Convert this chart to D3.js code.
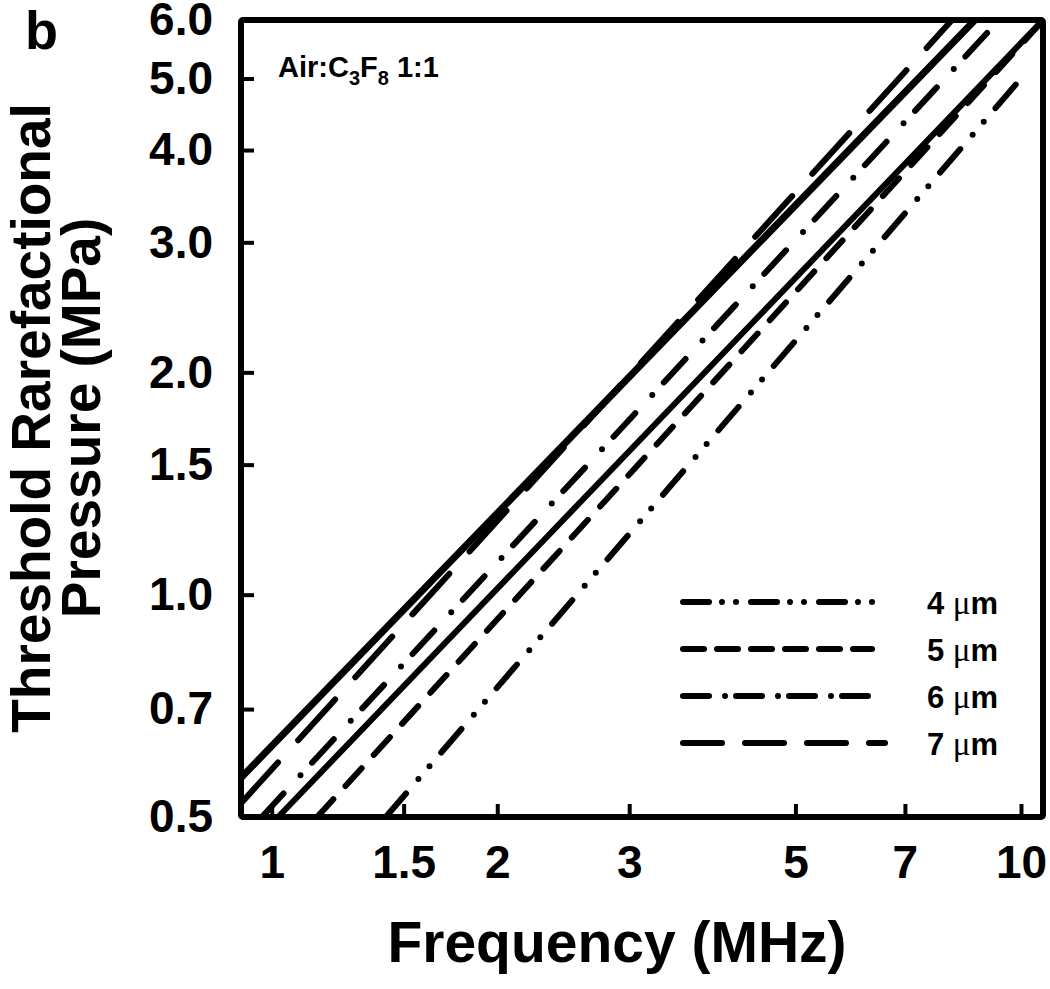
<!DOCTYPE html>
<html>
<head>
<meta charset="utf-8">
<script src="https://cdn.jsdelivr.net/npm/d3@7"></script>
<style>
  body { margin: 0; background: #fff; }
  svg { display: block; }
  text { font-family: "Liberation Sans", Arial, sans-serif; font-weight: bold; fill: #000; }
</style>
</head>
<body>
<svg id="chart" width="1050" height="989"></svg>
<script>
// values
const freqTicks = [1, 1.5, 2, 3, 5, 7, 10];
const pressureTicks = [0.5, 0.7, 1.0, 1.5, 2.0, 3.0, 4.0, 5.0, 6.0];

const lineNames   = ['4 µm', '5 µm', '6 µm', '7 µm', 'solid A', 'solid C'];
const freqStart   = [1.42, 1.15, 0.97, 0.91, 0.91, 1.02];
const pressStart  = [0.5, 0.5, 0.5, 0.522, 0.565, 0.5];
const freqEnd     = [10.0, 10.6, 9.35, 8.09, 8.68, 10.7];
const pressEnd    = [5.0, 5.93, 6.0, 6.0, 6.0, 6.0];

const legendLabels = ['4', '5', '6', '7'];

// styles
const lineDash   = ['31,19,0,17,0,18', '24,18', '32,25,0,17', '55,30', null, null];
const lineWidth  = [6, 6, 6, 6, 7, 6];
const legendDash = ['26,13,0,14,0,15', '21,13', '26,16,0,11', '39,23'];
const legendEnd  = [873, 872, 869, 885];

const plotL = 241, plotR = 1043, plotT = 20, plotB = 817;

const svg = d3.select('#chart');

const x = d3.scaleLog().domain([0.91, 10.7]).range([plotL, plotR]);
const y = d3.scaleLog().domain([0.5, 6.0]).range([plotB, plotT]);

svg.append('defs').append('clipPath').attr('id', 'plot')
  .append('rect')
  .attr('x', plotL).attr('y', plotT)
  .attr('width', plotR - plotL).attr('height', plotB - plotT);

const lines = lineNames.map((name, i) => ({
  name,
  pts: [[freqStart[i], pressStart[i]], [freqEnd[i], pressEnd[i]]],
  dash: lineDash[i],
  width: lineWidth[i]
}));

const line = d3.line().x(d => x(d[0])).y(d => y(d[1]));

svg.append('g').attr('clip-path', 'url(#plot)')
  .selectAll('path')
  .data(lines)
  .join('path')
  .attr('d', d => line(d.pts))
  .attr('fill', 'none')
  .attr('stroke', '#000')
  .attr('stroke-width', d => d.width)
  .attr('stroke-linecap', 'round')
  .attr('stroke-dasharray', d => d.dash);

// axes with inward ticks
const yAxis = d3.axisLeft(y)
  .tickValues(pressureTicks)
  .tickFormat(d3.format('.1f'))
  .tickSize(-13)
  .tickPadding(28);

const xAxis = d3.axisBottom(x)
  .tickValues(freqTicks)
  .tickFormat(d => d)
  .tickSize(-13)
  .tickPadding(28);

const gy = svg.append('g').attr('transform', `translate(${plotL},0)`).call(yAxis);
const gx = svg.append('g').attr('transform', `translate(0,${plotB})`).call(xAxis);

[gy, gx].forEach(g => {
  g.select('.domain').remove();
  g.selectAll('.tick line').attr('stroke', '#000').attr('stroke-width', 4);
  g.selectAll('.tick text')
    .style('font-family', '"Liberation Sans", Arial, sans-serif')
    .style('font-weight', 'bold')
    .style('font-size', '46px')
    .attr('fill', '#000');
});

// frame
svg.append('rect')
  .attr('x', plotL).attr('y', plotT)
  .attr('width', plotR - plotL).attr('height', plotB - plotT)
  .attr('fill', 'none')
  .attr('stroke', '#000')
  .attr('stroke-width', 6)
  .attr('rx', 2);

// titles
svg.append('text')
  .attr('x', 617).attr('y', 962)
  .attr('text-anchor', 'middle')
  .style('font-size', '57px')
  .text('Frequency (MHz)');

svg.append('text')
  .attr('transform', 'translate(50,418) rotate(-90)')
  .attr('text-anchor', 'middle')
  .style('font-size', '55px')
  .text('Threshold Rarefactional');

svg.append('text')
  .attr('transform', 'translate(100,418) rotate(-90)')
  .attr('text-anchor', 'middle')
  .style('font-size', '55px')
  .text('Pressure (MPa)');

svg.append('text')
  .attr('x', 25).attr('y', 49)
  .style('font-size', '54px')
  .text('b');

const gas = svg.append('text')
  .attr('x', 278).attr('y', 77)
  .style('font-size', '29px');
gas.append('tspan').text('Air:C');
gas.append('tspan').attr('dy', 8).style('font-size', '20px').text('3');
gas.append('tspan').attr('dy', -8).text('F');
gas.append('tspan').attr('dy', 8).style('font-size', '20px').text('8');
gas.append('tspan').attr('dy', -8).text(' 1:1');

// legend
const legend = svg.append('g')
  .selectAll('g')
  .data(legendLabels)
  .join('g')
  .attr('transform', (d, i) => `translate(0,${602 + i * 47})`);

legend.append('line')
  .attr('x1', 683)
  .attr('x2', (d, i) => legendEnd[i])
  .attr('y1', 0).attr('y2', 0)
  .attr('stroke', '#000')
  .attr('stroke-width', 6)
  .attr('stroke-linecap', 'round')
  .attr('stroke-dasharray', (d, i) => legendDash[i]);

const lt = legend.append('text')
  .attr('x', 927).attr('y', 12)
  .style('font-size', '31px');
lt.append('tspan').text(d => d + ' ');
lt.append('tspan')
  .style('font-family', '"Liberation Serif", "DejaVu Serif", serif')
  .style('font-weight', 'normal')
  .style('font-size', '33px')
  .text('μ');
lt.append('tspan').text('m');
</script>
</body>
</html>
